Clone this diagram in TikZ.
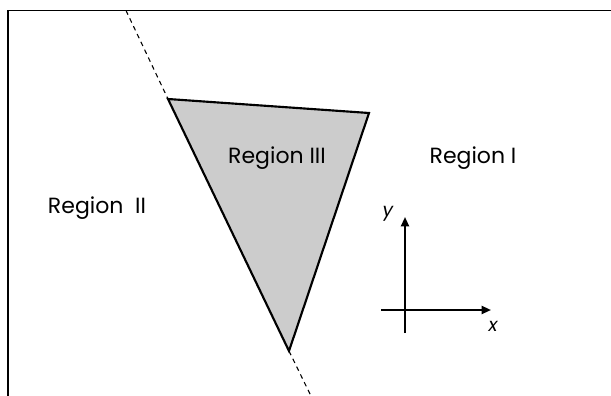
\documentclass[tikz,border=0pt]{standalone}
\usepackage{fontspec}
\setmainfont{Poppins}
\usetikzlibrary{arrows.meta}
\begin{document}
\begin{tikzpicture}[x=0.75pt,y=-0.75pt,
  lbl/.style={font=\fontsize{16.5}{18}\selectfont, inner sep=0pt},
  axlbl/.style={font=\itshape\fontsize{14}{16}\selectfont, inner sep=0pt},
  edge/.style={line width=1.6pt, line join=miter},
  axis/.style={line width=1.5pt, -{Triangle[length=7pt,width=6pt]}}]
\useasboundingbox (0,0) rectangle (611,396);
\fill[white] (0,0) rectangle (611,396);
% frame (top and left only visible)
\draw[line width=1pt] (8,396) -- (8,10.5) -- (611,10.5);
% triangle vertices
\coordinate (A) at (168,99);
\coordinate (B) at (369,113);
\coordinate (C) at (289,351);
\coordinate (T) at (126,10.5);
\coordinate (E) at (311,396);
\draw[line width=0.8pt, dash pattern=on 3.5pt off 3pt] (T) -- (A);
\draw[line width=0.8pt, dash pattern=on 3.5pt off 3pt] (C) -- (E);
\filldraw[fill=black!20, edge] (A) -- (B) -- (C) -- cycle;
% labels
\node[lbl] (r3) at (277,158) {Region III};
\node[lbl] (r1) at (473,158) {Region I};
\node[lbl] (r2) at (97,208) {Region\ \ II};
% axes
\coordinate (xs) at (381,310);
\coordinate (xe) at (491,310);
\coordinate (ys) at (405,333);
\coordinate (ye) at (405,217);
\draw[axis] (xs) -- (xe);
\draw[axis] (ys) -- (ye);
\node[axlbl] (ylab) at (388,214) {y};
\node[axlbl] (xlab) at (493,326) {x};
\end{tikzpicture}
\end{document}
